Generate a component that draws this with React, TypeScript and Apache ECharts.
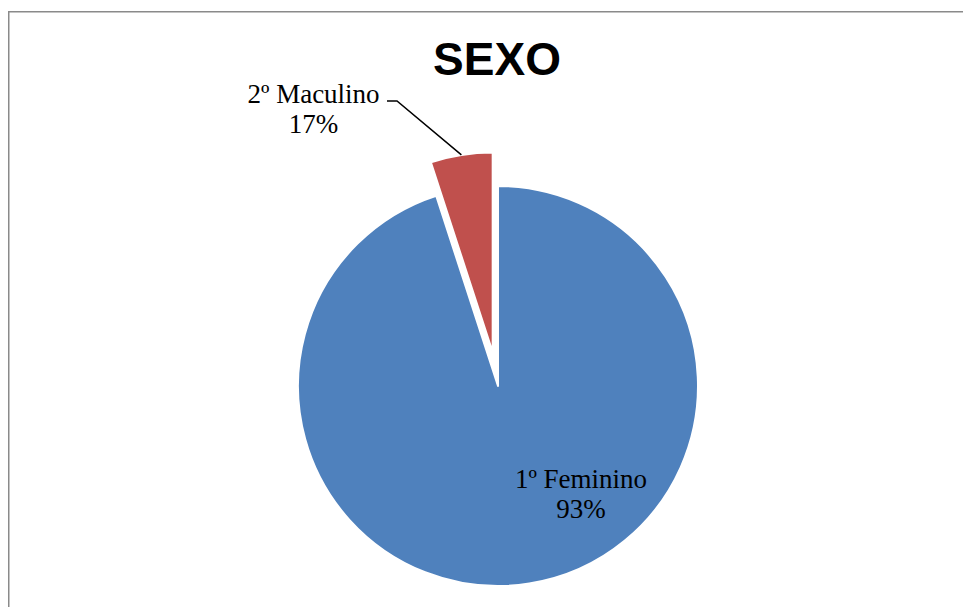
import React, { useEffect, useRef } from "react";
import * as echarts from "echarts";

const titleText = "SEXO";
const categories = ["1º Feminino", "2º Maculino"];
const values = [95, 5];
const percentLabels = ["93%", "17%"];
const colors = ["#4F81BD", "#C0504D"];

export default function App() {
  const ref = useRef<HTMLDivElement>(null);
  useEffect(() => {
    const chart = echarts.init(ref.current!, null, { renderer: "svg" });
    const cx = 498;
    const cy = 386;
    const R = 200;
    const offset = 34;
    const total = values.reduce((a, b) => a + b, 0);
    // red slice bisector angle (degrees, counter-clockwise from +x)
    const bis = ((90 + (360 * values[1]) / total / 2) * Math.PI) / 180;
    const sx = cx + (R + offset) * Math.cos(bis);
    const sy = cy - (R + offset) * Math.sin(bis);
    chart.setOption({
      animation: false,
      backgroundColor: "#ffffff",
      title: {
        text: titleText,
        left: 492,
        top: 31,
        textAlign: "center",
        textStyle: {
          fontFamily: "Liberation Sans, Arial, sans-serif",
          fontWeight: "bold",
          fontSize: 46,
          color: "#000000",
        },
      },
      graphic: [
        {
          type: "rect",
          shape: { x: 8.75, y: 11.75, width: 1100, height: 1100 },
          style: { fill: "none", stroke: "#8a8a8a", lineWidth: 1.5 },
          silent: true,
          z: 0,
        },
        {
          type: "polyline",
          shape: { points: [[387, 101], [397, 101], [sx, sy]] },
          style: { fill: "none", stroke: "#000000", lineWidth: 1.5 },
          silent: true,
          z: 10,
        },
      ],
      series: [
        {
          type: "pie",
          center: [cx, cy],
          radius: [0, R],
          startAngle: 90,
          clockwise: true,
          selectedMode: "single",
          selectedOffset: offset,
          avoidLabelOverlap: false,
          itemStyle: { borderColor: "#ffffff", borderWidth: 2 },
          emphasis: { disabled: true },
          label: {
            fontFamily: "Liberation Serif, Times New Roman, serif",
            fontSize: 27,
            lineHeight: 30,
            color: "#000000",
          },
          labelLayout: (params: any) => {
            if (params.dataIndex === 0) {
              return { x: 581, y: 494, align: "center", verticalAlign: "middle" };
            }
            return { dx: -163, dy: -142, align: "center", verticalAlign: "middle" };
          },
          data: categories.map((name, i) => ({
            name,
            value: values[i],
            selected: i === 1,
            itemStyle: { color: colors[i] },
            label: {
              show: true,
              position: "inside",
              align: "center",
              formatter: name + "\n" + percentLabels[i],
            },
            labelLine: { show: false },
          })),
        },
      ],
    });
    return () => chart.dispose();
  }, []);
  return (
    <div
      ref={ref}
      style={{ position: "absolute", left: 0, top: 0, width: 963, height: 607 }}
    />
  );
}
